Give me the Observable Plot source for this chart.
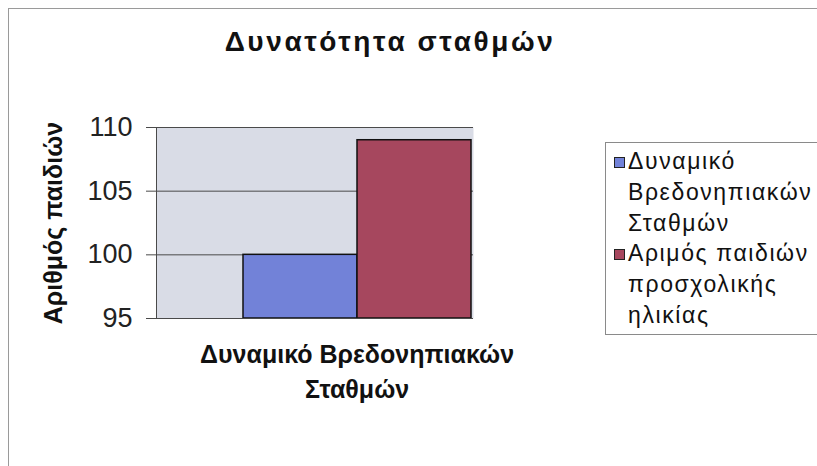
<!DOCTYPE html>
<html>
<head>
<meta charset="utf-8">
<script src="https://cdn.jsdelivr.net/npm/d3@7"></script>
<script src="https://cdn.jsdelivr.net/npm/@observablehq/plot@0.6"></script>
<style>
  html, body { margin: 0; padding: 0; background: #fff; }
  #wrap { position: relative; width: 817px; height: 466px; overflow: hidden; font-family: "Liberation Sans", Arial, sans-serif; }
  #border { position: absolute; left: 8px; top: 8px; right: -2px; bottom: -2px; border-left: 1px solid #9a9a9a; border-top: 1px solid #9a9a9a; }
  #title { position: absolute; left: 0; width: 780px; top: 26px; text-align: center; font-weight: bold; font-size: 28px; letter-spacing: 2.6px; color: #111; }
  #legend { position: absolute; left: 605px; top: 142px; width: 230px; height: 193px; border: 1px solid #8a8a8a; box-sizing: border-box; padding: 3px 0 0 8px; font-size: 23px; letter-spacing: 1.6px; line-height: 30.8px; color: #111; white-space: nowrap; }
  .item { display: flex; align-items: flex-start; }
  .sw { width: 9px; height: 9px; border: 1px solid #222; margin: 11px 3px 0 0; flex: none; }
  #chart { position: absolute; left: 0; top: 0; }
</style>
</head>
<body>
<div id="wrap">
  <div id="border"></div>
  <div id="title"></div>
  <div id="chart"></div>
  <div id="legend"></div>
</div>
<script>
const title = "Δυνατότητα σταθμών";
const category = "Δυναμικό Βρεδονηπιακών\nΣταθμών";
const series = ["Δυναμικό Βρεδονηπιακών Σταθμών", "Αριμός παιδιών προσχολικής ηλικίας"];
const legendLabels = ["Δυναμικό<br>Βρεδονηπιακών<br>Σταθμών", "Αριμός παιδιών<br>προσχολικής<br>ηλικίας"];
const values = [100, 109];
const colors = ["#7282d8", "#a6475e"];
const yTicks = [95, 100, 105, 110];
const yLabel = "Αριθμός παιδιών";

const data = series.map((s, i) => ({series: s, value: values[i]}));

document.getElementById("title").textContent = title;
document.getElementById("legend").innerHTML = series.map((s, i) =>
  `<div class="item"><span class="sw" style="background:${colors[i]}"></span><span>${legendLabels[i]}</span></div>`
).join("");

const bandStep = (558 - 156) / (series.length + 1.5);

const chart = Plot.plot({
  width: 817,
  height: 466,
  marginLeft: 156,
  marginRight: 344,
  marginTop: 127,
  marginBottom: 148,
  style: {fontFamily: "Liberation Sans, Arial, sans-serif", background: "transparent"},
  x: {type: "band", domain: series, range: [156, 558], paddingInner: 0, paddingOuter: 0.75, axis: null},
  y: {domain: [95, 110], clamp: true},
  color: {domain: series, range: colors},
  marks: [
    Plot.frame({fill: "#d9dce6", stroke: null}),
    Plot.gridY(yTicks, {stroke: "#4a4a4a", strokeOpacity: 1, strokeWidth: 1}),
    Plot.axisY(yTicks, {tickSize: 10, tickPadding: 14, fontSize: 27, fill: "#222", stroke: "#4a4a4a", label: null}),
    Plot.barY(data, {x: "series", y1: 95, y2: "value", fill: "series", stroke: "#111", strokeWidth: 1.5, inset: 0}),
    Plot.ruleY([95], {stroke: "#4a4a4a"}),
    Plot.frame({anchor: "left", stroke: "#4a4a4a"}),
    Plot.text([yLabel], {frameAnchor: "left", textAnchor: "middle", dx: -103, rotate: -90, fontSize: 25, fontWeight: "bold", letterSpacing: 4.5, fill: "#111", text: d => d}),
    Plot.text([category], {x: () => series[1], dx: -bandStep / 2, frameAnchor: "bottom", lineAnchor: "top", dy: 19, lineHeight: 1.42, fontSize: 25, fontWeight: "bold", fill: "#111", text: d => d, letterSpacing: 5.3})
  ]
});
document.getElementById("chart").appendChild(chart);
</script>
</body>
</html>
